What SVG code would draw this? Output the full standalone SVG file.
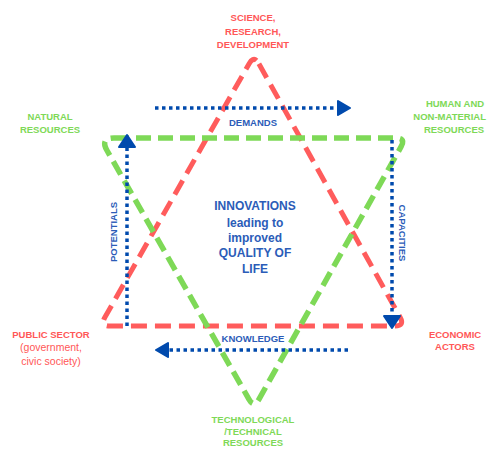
<svg xmlns="http://www.w3.org/2000/svg" width="489" height="449" viewBox="0 0 489 449">
<style>
.red{fill:none;stroke:#ff5c5c;stroke-width:5;stroke-dasharray:16 8;stroke-linecap:butt}
.green{fill:none;stroke:#7ed957;stroke-width:5.5;stroke-dasharray:15 7}
.dot{fill:none;stroke:#004aad;stroke-width:3.5;stroke-dasharray:3.5 3.5}
.head{fill:#004aad;stroke:#004aad;stroke-width:2;stroke-linejoin:round}
text{font-family:"Liberation Sans",Arial,sans-serif;text-anchor:middle}
.lr{fill:#ff5757;font-weight:bold;font-size:9.5px}
.lg{fill:#7ed957;font-weight:bold;font-size:9.5px}
.lb{fill:#2b5cb8;font-weight:bold;font-size:9.5px}
.c{fill:#2b5cb8;font-weight:bold;font-size:12px}
.sub{fill:#ff5757;font-size:10.5px}
</style>
<rect width="489" height="449" fill="#ffffff"/>
<g id="connectors">
<path id="red-triangle" class="red" d="M258.9,63.7 L400.1,317.3 Q405,326 395,326 L110,326 Q100,326 104.9,317.3 L249.1,63.7 Q254,55 258.9,63.7 Z"/>
<path id="green-triangle" class="green" d="M114,138 L396,138 Q406,138 401.1,146.7 L258.9,399.3 Q254,408 249,399.3 L107,150.5 Q100,138 114,138 Z"/>
<g id="demands-arrow"><line class="dot" x1="155" y1="108" x2="338" y2="108"/><polygon class="head" points="338,101 350,108 338,115"/></g>
<g id="capacities-arrow"><line class="dot" x1="392" y1="140" x2="392" y2="316"/><polygon class="head" points="384,316 400,316 392,328"/></g>
<g id="knowledge-arrow"><line class="dot" x1="348" y1="350" x2="168" y2="350"/><polygon class="head" points="168,343 156,350 168,357"/></g>
<g id="potentials-arrow"><line class="dot" x1="127" y1="326" x2="127" y2="147"/><polygon class="head" points="119,147 135,147 127,135"/></g>
</g>
<g id="science"><text class="lr" x="253" y="21">SCIENCE,</text><text class="lr" x="253" y="35">RESEARCH,</text><text class="lr" x="253" y="48">DEVELOPMENT</text></g>
<g id="natural"><text class="lg" x="50" y="120">NATURAL</text><text class="lg" x="50" y="133">RESOURCES</text></g>
<g id="human"><text class="lg" x="455" y="107">HUMAN AND</text><text class="lg" x="486" y="120" style="text-anchor:end">NON-MATERIAL</text><text class="lg" x="454" y="133">RESOURCES</text></g>
<g id="public"><text class="lr" x="51" y="338">PUBLIC SECTOR</text><text class="sub" x="51" y="351">(government,</text><text class="sub" x="51" y="365">civic society)</text></g>
<g id="economic"><text class="lr" x="455" y="338">ECONOMIC</text><text class="lr" x="455" y="350">ACTORS</text></g>
<g id="technological"><text class="lg" x="253" y="423">TECHNOLOGICAL</text><text class="lg" x="253" y="435">/TECHNICAL</text><text class="lg" x="253" y="446">RESOURCES</text></g>
<g id="center"><text class="c" x="255" y="210">INNOVATIONS</text><text class="c" x="255" y="227">leading to</text><text class="c" x="255" y="242">improved</text><text class="c" x="255" y="257">QUALITY OF</text><text class="c" x="255" y="273">LIFE</text></g>
<g id="labels">
<text class="lb" x="253" y="126">DEMANDS</text>
<text class="lb" x="253" y="342">KNOWLEDGE</text>
<text class="lb" transform="translate(117,232) rotate(-90)">POTENTIALS</text>
<text class="lb" transform="translate(399,233) rotate(90)">CAPACITIES</text>
</g>
</svg>
